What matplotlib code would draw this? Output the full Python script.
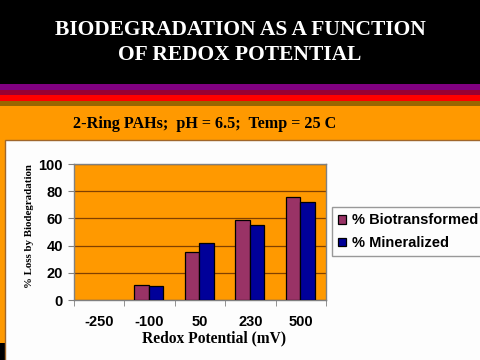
import matplotlib
matplotlib.use("Agg")
import matplotlib.pyplot as plt
from matplotlib.patches import Rectangle
import numpy as np

categories = ["-250", "-100", "50", "230", "500"]
biotransformed = [0, 11, 35, 59, 76]
mineralized = [0, 10, 42, 55, 72]
yticks = [0, 20, 40, 60, 80, 100]

W, H = 480, 360
fig = plt.figure(figsize=(4.8, 3.6), dpi=100)
fig.patch.set_facecolor("#FF9900")

def px_rect(x0, y0, x1, y1, color, ec="none", lw=0, z=-10):
    r = Rectangle((x0 / W, 1 - y1 / H), (x1 - x0) / W, (y1 - y0) / H,
                  transform=fig.transFigure, facecolor=color, edgecolor=ec,
                  linewidth=lw, zorder=z)
    fig.patches.append(r)

# background bands
px_rect(0, 0, 480, 84, "#000000")
px_rect(0, 84, 480, 90, "#800080")
px_rect(0, 90, 480, 95, "#990033")
px_rect(0, 95, 480, 101, "#FF0000")
px_rect(0, 101, 480, 106, "#996600")
px_rect(0, 106, 480, 360, "#FF9900")
px_rect(0, 343, 5, 360, "#000000")
px_rect(5, 140, 481, 361, "#FDFDFD", ec="#A0662A", lw=1.0, z=-9)

fig.text(240 / W, 1 - 42.5 / H, "BIODEGRADATION AS A FUNCTION\nOF REDOX POTENTIAL",
         color="white", fontfamily="Liberation Serif", fontweight="bold",
         fontsize=15.5, ha="center", va="center", linespacing=1.32)
fig.text(205 / W, 1 - 124 / H, "2-Ring PAHs;  pH = 6.5;  Temp = 25 C",
         color="black", fontfamily="Liberation Serif", fontweight="bold",
         fontsize=11.6, ha="center", va="center")

ax = fig.add_axes([74 / W, 1 - 300 / H, 252 / W, 136 / H])
ax.set_facecolor("#FF9900")
x = np.arange(len(categories))
w = 0.286
bio_color, min_color = "#993366", "#000099"
b1 = ax.bar(x - 0.157, biotransformed, w, color=bio_color, edgecolor="black",
            linewidth=0.9, zorder=3)
b2 = ax.bar(x + 0.129, mineralized, w, color=min_color, edgecolor="black",
            linewidth=0.9, zorder=3)
for b in list(b1) + list(b2):
    if b.get_height() == 0:
        b.set_visible(False)

ax.set_xlim(-0.5, len(categories) - 0.5)
ax.set_ylim(0, 100)
ax.set_yticks(yticks)
ax.yaxis.grid(True, color="#804000", linewidth=0.9, zorder=1)
ax.set_axisbelow(True)
for s in ax.spines.values():
    s.set_color("#808080")
    s.set_linewidth(1.0)

ax.set_xticks(x)
ax.set_xticklabels(categories)
ax.set_xticks(np.arange(-0.5, len(categories), 1.0), minor=True)
ax.tick_params(axis="x", which="major", length=0, pad=10.5)
ax.tick_params(axis="x", which="minor", length=4, color="#808080", direction="out")
ax.tick_params(axis="y", length=4, color="#808080", direction="out", pad=4)
for lab in ax.get_xticklabels() + ax.get_yticklabels():
    lab.set_fontfamily("Liberation Sans")
    lab.set_fontweight("bold")
    lab.set_fontsize(10.5)

fig.text(214.5 / W, 1 - 338.5 / H, "Redox Potential (mV)", fontfamily="Liberation Serif",
         fontweight="bold", fontsize=11.2, ha="center", va="center")
fig.text(29 / W, 1 - 226 / H, "% Loss by Biodegradation", fontfamily="Liberation Serif",
         fontweight="bold", fontsize=7.8, ha="center", va="center", rotation=90)

h1 = Rectangle((0, 0), 1, 1, facecolor=bio_color, edgecolor="black", linewidth=0.9)
h2 = Rectangle((0, 0), 1, 1, facecolor=min_color, edgecolor="black", linewidth=0.9)
leg = fig.legend(handles=[h1, h2], labels=["% Biotransformed", "% Mineralized"],
                 loc="upper left",
                 bbox_to_anchor=(332 / W, 1 - 207.5 / H),
                 prop={"family": "Liberation Sans", "weight": "bold", "size": 10.5},
                 frameon=True, fancybox=False, shadow=False,
                 handlelength=0.55, handleheight=0.55, handletextpad=0.45,
                 labelspacing=0.6, borderpad=0.4, borderaxespad=0)
leg.get_frame().set_edgecolor("#808080")
leg.get_frame().set_linewidth(1.0)
leg.get_frame().set_facecolor("#FDFDFD")

fig.savefig("out.png", dpi=100, facecolor=fig.get_facecolor())
